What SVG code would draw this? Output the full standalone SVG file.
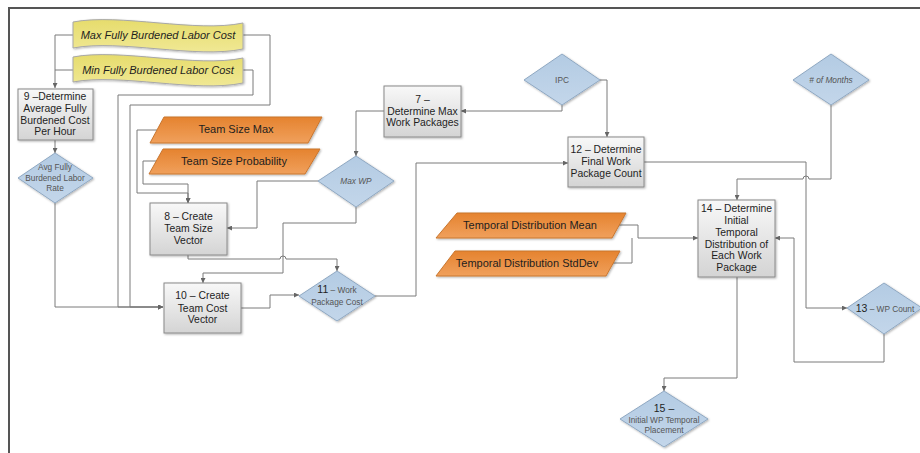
<svg xmlns="http://www.w3.org/2000/svg" width="920" height="453" viewBox="0 0 920 453">
  <defs>
    <linearGradient id="gBox" x1="0" y1="0" x2="0" y2="1">
      <stop offset="0" stop-color="#f8f8f8"/>
      <stop offset="1" stop-color="#d4d4d4"/>
    </linearGradient>
    <linearGradient id="gDia" x1="0" y1="0" x2="0" y2="1">
      <stop offset="0" stop-color="#b3cbe3"/>
      <stop offset="1" stop-color="#c3d6ea"/>
    </linearGradient>
    <linearGradient id="gOra" x1="0" y1="0" x2="0" y2="1">
      <stop offset="0" stop-color="#e5832f"/>
      <stop offset="1" stop-color="#f0a05c"/>
    </linearGradient>
    <linearGradient id="gYel" x1="0" y1="0" x2="0" y2="1">
      <stop offset="0" stop-color="#e6dc6c"/>
      <stop offset="1" stop-color="#f0e894"/>
    </linearGradient>
    <filter id="shadow" x="-10%" y="-10%" width="130%" height="130%">
      <feDropShadow dx="1" dy="1" stdDeviation="0.8" flood-color="#000" flood-opacity="0.3"/>
    </filter>
    <marker id="arrow" viewBox="0 0 6 6" refX="6" refY="3" markerWidth="5" markerHeight="5" markerUnits="userSpaceOnUse" orient="auto">
      <path d="M0,0 L6,3 L0,6 z" fill="#666"/>
    </marker>
  </defs>
  <style>
    .box { fill: url(#gBox); stroke: #8a8a8a; stroke-width: 1; filter: url(#shadow); }
    .dia { fill: url(#gDia); stroke: #8fa8c2; stroke-width: 1; filter: url(#shadow); }
    .ora { fill: url(#gOra); stroke: #c9762f; stroke-width: 1; filter: url(#shadow); }
    .yel { fill: url(#gYel); stroke: #a8a8a8; stroke-width: 1; filter: url(#shadow); }
    .lbl { font-family: "Liberation Sans", Arial, sans-serif; font-size: 10.4px; fill: #1e1e1e; text-anchor: middle; }
    .big { font-family: "Liberation Sans", Arial, sans-serif; font-size: 11px; fill: #1e1e1e; text-anchor: middle; }
    .small { font-family: "Liberation Sans", Arial, sans-serif; font-size: 8.3px; fill: #555; text-anchor: middle; }
    .num { font-size: 10.5px; fill: #1e1e1e; }
    .it { font-style: italic; }
    .conn path { fill: none; stroke: #7a7a7a; stroke-width: 1; }
  </style>

  <rect x="0" y="0" width="920" height="453" fill="#ffffff"/>
  <!-- page frame -->
  <path d="M9,453 V8 H920" fill="none" stroke="#555" stroke-width="2"/>

  <!-- connectors -->
  <g id="connectors" class="conn">
    <path d="M73,35 H55 V88" marker-end="url(#arrow)"/>
    <path d="M73,70 H55"/>
    <path d="M243,35 H270 V105 H130 V307 H163" marker-end="url(#arrow)"/>
    <path d="M243,70 H253 V95 H118 V307 H163" marker-end="url(#arrow)"/>
    <path d="M55,140 V153" marker-end="url(#arrow)"/>
    <path d="M55,203 V307 H163" marker-end="url(#arrow)"/>
    <path d="M157,130 H137 V193 H188 V203" marker-end="url(#arrow)"/>
    <path d="M156,161 H143 V184 H188 V203" marker-end="url(#arrow)"/>
    <path d="M318,181 H257 V228 H227" marker-end="url(#arrow)"/>
    <path d="M356,207 V223 H283 V273 H203 V283" marker-end="url(#arrow)"/>
    <path d="M188,255 V259 H280 A3,3 0 0 1 286,259 H337 V271" marker-end="url(#arrow)"/>
    <path d="M241,308 H270 V295 H299" marker-end="url(#arrow)"/>
    <path d="M375,296 H416 V163 H568" marker-end="url(#arrow)"/>
    <path d="M384,111 H356 V156" marker-end="url(#arrow)"/>
    <path d="M562,105 V111 H461" marker-end="url(#arrow)"/>
    <path d="M600,80 H607 V137" marker-end="url(#arrow)"/>
    <path d="M831,105 V179 H809 A3,3 0 0 0 803,179 H737 V200" marker-end="url(#arrow)"/>
    <path d="M644,162 H806 V308 H847" marker-end="url(#arrow)"/>
    <path d="M884,334 V362 H794 V238 H775" marker-end="url(#arrow)"/>
    <path d="M619,225 H638 V238 H698" marker-end="url(#arrow)"/>
    <path d="M613,263 H632 V238"/>
    <path d="M737,277 V378 H664 V391" marker-end="url(#arrow)"/>
  </g>

  <!-- input banners -->
  <g id="max-labor-cost">
    <path class="yel" d="M73,22 C120,13 196,33 243,23 V49 C196,59 120,39 73,48 Z"/>
    <text class="big it" x="158" y="39">Max Fully Burdened Labor Cost</text>
  </g>
  <g id="min-labor-cost">
    <path class="yel" d="M73,57 C120,48 196,68 243,58 V83 C196,93 120,73 73,82 Z"/>
    <text class="big it" x="158" y="74">Min Fully Burdened Labor Cost</text>
  </g>

  <!-- process 9 -->
  <g id="node9">
    <rect class="box" x="18" y="89" width="75" height="51"/>
    <text class="lbl" x="55" y="100">9 –Determine</text>
    <text class="lbl" x="55" y="112">Average Fully</text>
    <text class="lbl" x="55" y="123.5">Burdened Cost</text>
    <text class="lbl" x="55" y="135">Per Hour</text>
  </g>

  <g id="avg-rate">
    <path class="dia" d="M55,153 L93,178 L55,203 L18,178 Z"/>
    <text class="small" x="55" y="170">Avg Fully</text>
    <text class="small" x="55" y="181">Burdened Labor</text>
    <text class="small" x="55" y="191">Rate</text>
  </g>

  <!-- team size inputs -->
  <g id="team-size-max">
    <path class="ora" d="M164,117 H322 L308,143 H150 Z"/>
    <text class="big" x="236" y="133">Team Size Max</text>
  </g>
  <g id="team-size-probability">
    <path class="ora" d="M163,149 H320 L305,174 H149 Z"/>
    <text class="big" x="234" y="165">Team Size Probability</text>
  </g>

  <!-- process 8 -->
  <g id="node8">
    <rect class="box" x="150" y="203" width="77" height="52"/>
    <text class="lbl" x="188.5" y="220">8 – Create</text>
    <text class="lbl" x="188.5" y="232">Team Size</text>
    <text class="lbl" x="188.5" y="244">Vector</text>
  </g>

  <g id="max-wp">
    <path class="dia" d="M356,156 L394,181 L356,207 L318,181 Z"/>
    <text class="small it" x="356" y="184">Max WP</text>
  </g>

  <!-- process 7 -->
  <g id="node7">
    <rect class="box" x="384" y="86" width="77" height="51"/>
    <text class="lbl" x="422.5" y="103">7 –</text>
    <text class="lbl" x="422.5" y="115">Determine Max</text>
    <text class="lbl" x="422.5" y="126">Work Packages</text>
  </g>

  <g id="ipc">
    <path class="dia" d="M562,54 L600,80 L562,105 L524,80 Z"/>
    <text class="small" x="562" y="83">IPC</text>
  </g>

  <!-- process 10 -->
  <g id="node10">
    <rect class="box" x="164" y="283" width="77" height="50"/>
    <text class="lbl" x="202.5" y="299">10 – Create</text>
    <text class="lbl" x="202.5" y="311.5">Team Cost</text>
    <text class="lbl" x="202.5" y="323">Vector</text>
  </g>

  <g id="wp-cost">
    <path class="dia" d="M337,271 L375,296 L337,321 L299,296 Z"/>
    <text class="small" x="337" y="293"><tspan class="num">11</tspan> – Work</text>
    <text class="small" x="337" y="305">Package Cost</text>
  </g>

  <!-- process 12 -->
  <g id="node12">
    <rect class="box" x="568" y="137" width="76" height="50"/>
    <text class="lbl" x="606" y="153">12 – Determine</text>
    <text class="lbl" x="606" y="165">Final Work</text>
    <text class="lbl" x="606" y="177">Package Count</text>
  </g>

  <g id="months">
    <path class="dia" d="M831,54 L869,80 L831,105 L793,80 Z"/>
    <text class="small it" x="831" y="83"># of Months</text>
  </g>

  <!-- temporal inputs -->
  <g id="temporal-mean">
    <path class="ora" d="M457,213 H626 L612,238 H436 Z"/>
    <text class="big" x="530" y="229">Temporal Distribution Mean</text>
  </g>
  <g id="temporal-stddev">
    <path class="ora" d="M455,251 H620 L606,276 H436 Z"/>
    <text class="big" x="527" y="267">Temporal Distribution StdDev</text>
  </g>

  <!-- process 14 -->
  <g id="node14">
    <rect class="box" x="698" y="200" width="77" height="77"/>
    <text class="lbl" x="736.5" y="212">14 – Determine</text>
    <text class="lbl" x="736.5" y="224">Initial</text>
    <text class="lbl" x="736.5" y="236">Temporal</text>
    <text class="lbl" x="736.5" y="247.5">Distribution of</text>
    <text class="lbl" x="736.5" y="259">Each Work</text>
    <text class="lbl" x="736.5" y="271">Package</text>
  </g>

  <g id="wp-count">
    <path class="dia" d="M884,283 L922,308 L884,334 L847,308 Z"/>
    <text class="small" x="885" y="312"><tspan class="num">13</tspan> – WP Count</text>
  </g>

  <g id="wp-placement">
    <path class="dia" d="M664,391 L708,419 L664,447 L620,419 Z"/>
    <text class="small" x="664" y="412"><tspan class="num">15 –</tspan></text>
    <text class="small" x="664" y="423">Initial WP Temporal</text>
    <text class="small" x="664" y="433">Placement</text>
  </g>
</svg>
